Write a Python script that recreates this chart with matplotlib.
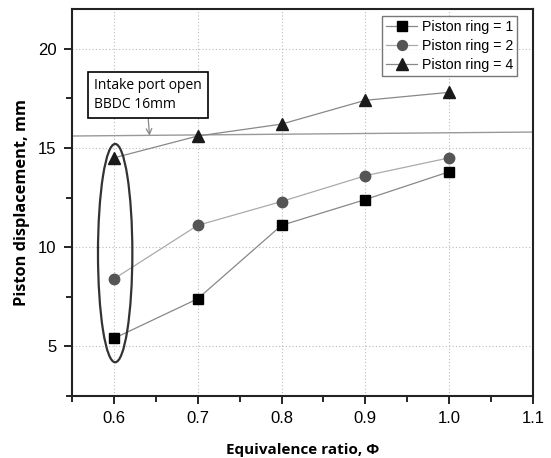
import matplotlib
matplotlib.use("Agg")
import matplotlib.pyplot as plt
from matplotlib.patches import Ellipse
from matplotlib.ticker import MultipleLocator

phi = [0.6, 0.7, 0.8, 0.9, 1.0]
ring1 = [5.4, 7.4, 11.1, 12.4, 13.8]
ring2 = [8.4, 11.1, 12.3, 13.6, 14.5]
ring4 = [14.5, 15.6, 16.2, 17.4, 17.8]
labels = ["Piston ring = 1", "Piston ring = 2", "Piston ring = 4"]
port_line_x = [0.55, 1.1]
port_line_y = [15.6, 15.8]

plt.rcParams['font.family'] = ['Liberation Sans', 'DejaVu Sans']

fig = plt.figure(figsize=(5.51, 4.58), dpi=100)
ax = fig.add_axes([72/551, 1-396/458, (533-72)/551, (396-9)/458])

ax.set_xlim(0.55, 1.1)
ax.set_ylim(2.5, 22)
ax.xaxis.set_minor_locator(MultipleLocator(0.05))
ax.yaxis.set_minor_locator(MultipleLocator(2.5))
ax.set_xticks([0.6, 0.7, 0.8, 0.9, 1.0, 1.1])
ax.set_xticklabels(["0.6", "0.7", "0.8", "0.9", "1.0", "1.1"])
ax.set_yticks([5, 10, 15, 20])
ax.grid(True, which='major', color='#bbbbbb', linestyle=(0, (1, 2)), linewidth=0.8)
ax.tick_params(which='major', direction='out', length=6, width=1.2, labelsize=12, colors='black', pad=5)
ax.tick_params(which='minor', direction='out', length=4, width=1.2)
for s in ax.spines.values():
    s.set_linewidth(1.5)
    s.set_color('#222222')

ax.plot(port_line_x, port_line_y, color='#999999', linewidth=1.0, zorder=2)

ax.plot(phi, ring1, color='#888888', linewidth=0.9, marker='s', markersize=7,
        markerfacecolor='black', markeredgecolor='black', label=labels[0], zorder=3)
ax.plot(phi, ring2, color='#aaaaaa', linewidth=0.9, marker='o', markersize=7.5,
        markerfacecolor='#555555', markeredgecolor='#555555', label=labels[1], zorder=3)
ax.plot(phi, ring4, color='#888888', linewidth=0.9, marker='^', markersize=8.5,
        markerfacecolor='#1a1a1a', markeredgecolor='#1a1a1a', label=labels[2], zorder=3)

ell = Ellipse((0.6015, 9.7), width=0.041, height=11.0, fill=False,
              edgecolor='#333333', linewidth=1.6, zorder=4)
ax.add_patch(ell)

ax.annotate("Intake port open\nBBDC 16mm", xy=(0.6425, 15.62), xytext=(0.576, 17.68),
            fontsize=10, family=['Open Sans', 'DejaVu Sans'], ha='left', va='center',
            linespacing=1.35,
            bbox=dict(boxstyle='square,pad=0.45', facecolor='white', edgecolor='black', linewidth=1.2),
            arrowprops=dict(arrowstyle='->', color='#888888', linewidth=0.9,
                            relpos=(0.5, 0.0), shrinkA=0, shrinkB=0))

leg = ax.legend(loc='upper right', bbox_to_anchor=(0.972, 0.99),
                prop={'size': 10.2},
                frameon=True, fancybox=False, edgecolor='#555555',
                borderpad=0.3, labelspacing=0.35, handlelength=2.2,
                handletextpad=0.3, borderaxespad=0.2, markerscale=0.95)
leg.get_frame().set_linewidth(1.0)

ax.set_xlabel("Equivalence ratio, Φ", fontsize=11, fontweight='bold',
              family=['Open Sans', 'DejaVu Sans'], va='center')
ax.set_ylabel("Piston displacement, mm", fontsize=11.8, fontweight='bold',
              family=['Open Sans', 'DejaVu Sans'], va='center')
ax.xaxis.set_label_coords(0.5, -(450-396)/387)
ax.yaxis.set_label_coords(-(72-22)/461, 0.5)

fig.savefig("out.png", dpi=100)
